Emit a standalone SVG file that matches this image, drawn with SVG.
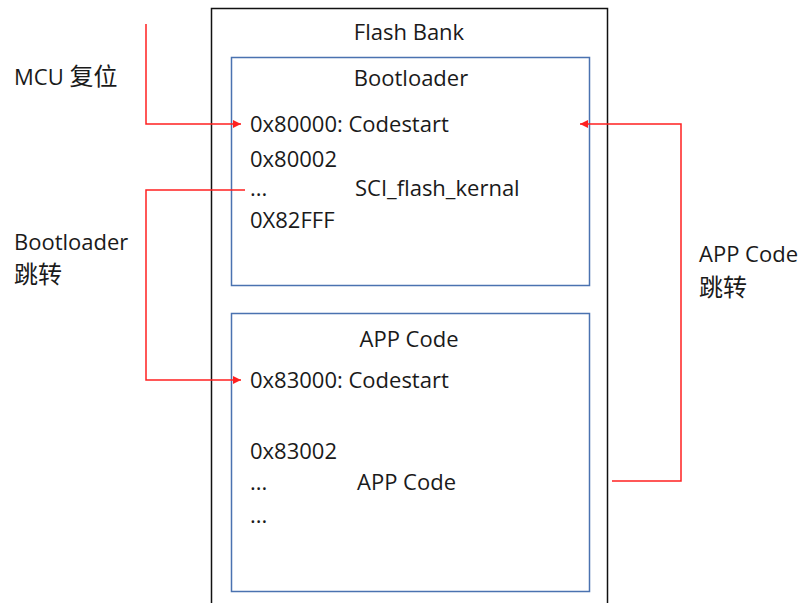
<svg xmlns="http://www.w3.org/2000/svg" width="802" height="603" viewBox="0 0 802 603">
<style>
text{font-family:"Open Sans","Noto Sans CJK SC",sans-serif;font-size:22px;fill:#1a1a1a}
.c{text-anchor:middle}
.cjk{font-size:24px}
.blue{fill:none;stroke:#4a72b0;stroke-width:1.5}
.wire{fill:none;stroke:#ff2020;stroke-width:1.5}
</style>
<defs>
<marker id="ah" viewBox="0 0 10 10" refX="10" refY="5" markerWidth="9" markerHeight="8" markerUnits="userSpaceOnUse" orient="auto">
<path d="M0,0 L10,5 L0,10 z" fill="#ff2020"/>
</marker>
</defs>
<rect width="802" height="603" fill="#fff"/>
<g id="flash-bank">
<rect x="211.5" y="8.5" width="396" height="600" fill="none" stroke="#111" stroke-width="1.5"/>
<text x="409" y="40" class="c">Flash Bank</text>
</g>
<g id="bootloader">
<rect x="231.5" y="57.5" width="358" height="228" class="blue"/>
<text x="411" y="86" class="c">Bootloader</text>
<text x="250" y="132">0x80000: Codestart</text>
<text x="250" y="167">0x80002</text>
<text x="250" y="196">...</text>
<text x="250" y="228">0X82FFF</text>
<text x="355" y="196">SCI_flash_kernal</text>
</g>
<g id="app-code">
<rect x="231.5" y="313.5" width="358" height="278" class="blue"/>
<text x="409" y="347" class="c">APP Code</text>
<text x="250" y="388">0x83000: Codestart</text>
<text x="250" y="459">0x83002</text>
<text x="250" y="490">...</text>
<text x="357" y="490">APP Code</text>
<text x="250" y="523">...</text>
</g>
<g id="labels">
<text x="14" y="85">MCU <tspan class="cjk">复位</tspan></text>
<text x="14" y="250">Bootloader</text>
<text x="14" y="283" class="cjk">跳转</text>
<text x="699" y="262">APP Code</text>
<text x="699" y="296" class="cjk">跳转</text>
</g>
<g id="connectors">
<path class="wire" d="M146,24 V124 H241" marker-end="url(#ah)"/>
<path class="wire" d="M245,190 H146 V380 H241" marker-end="url(#ah)"/>
<path class="wire" d="M612,481 H681 V124 H580" marker-end="url(#ah)"/>
</g>
</svg>
